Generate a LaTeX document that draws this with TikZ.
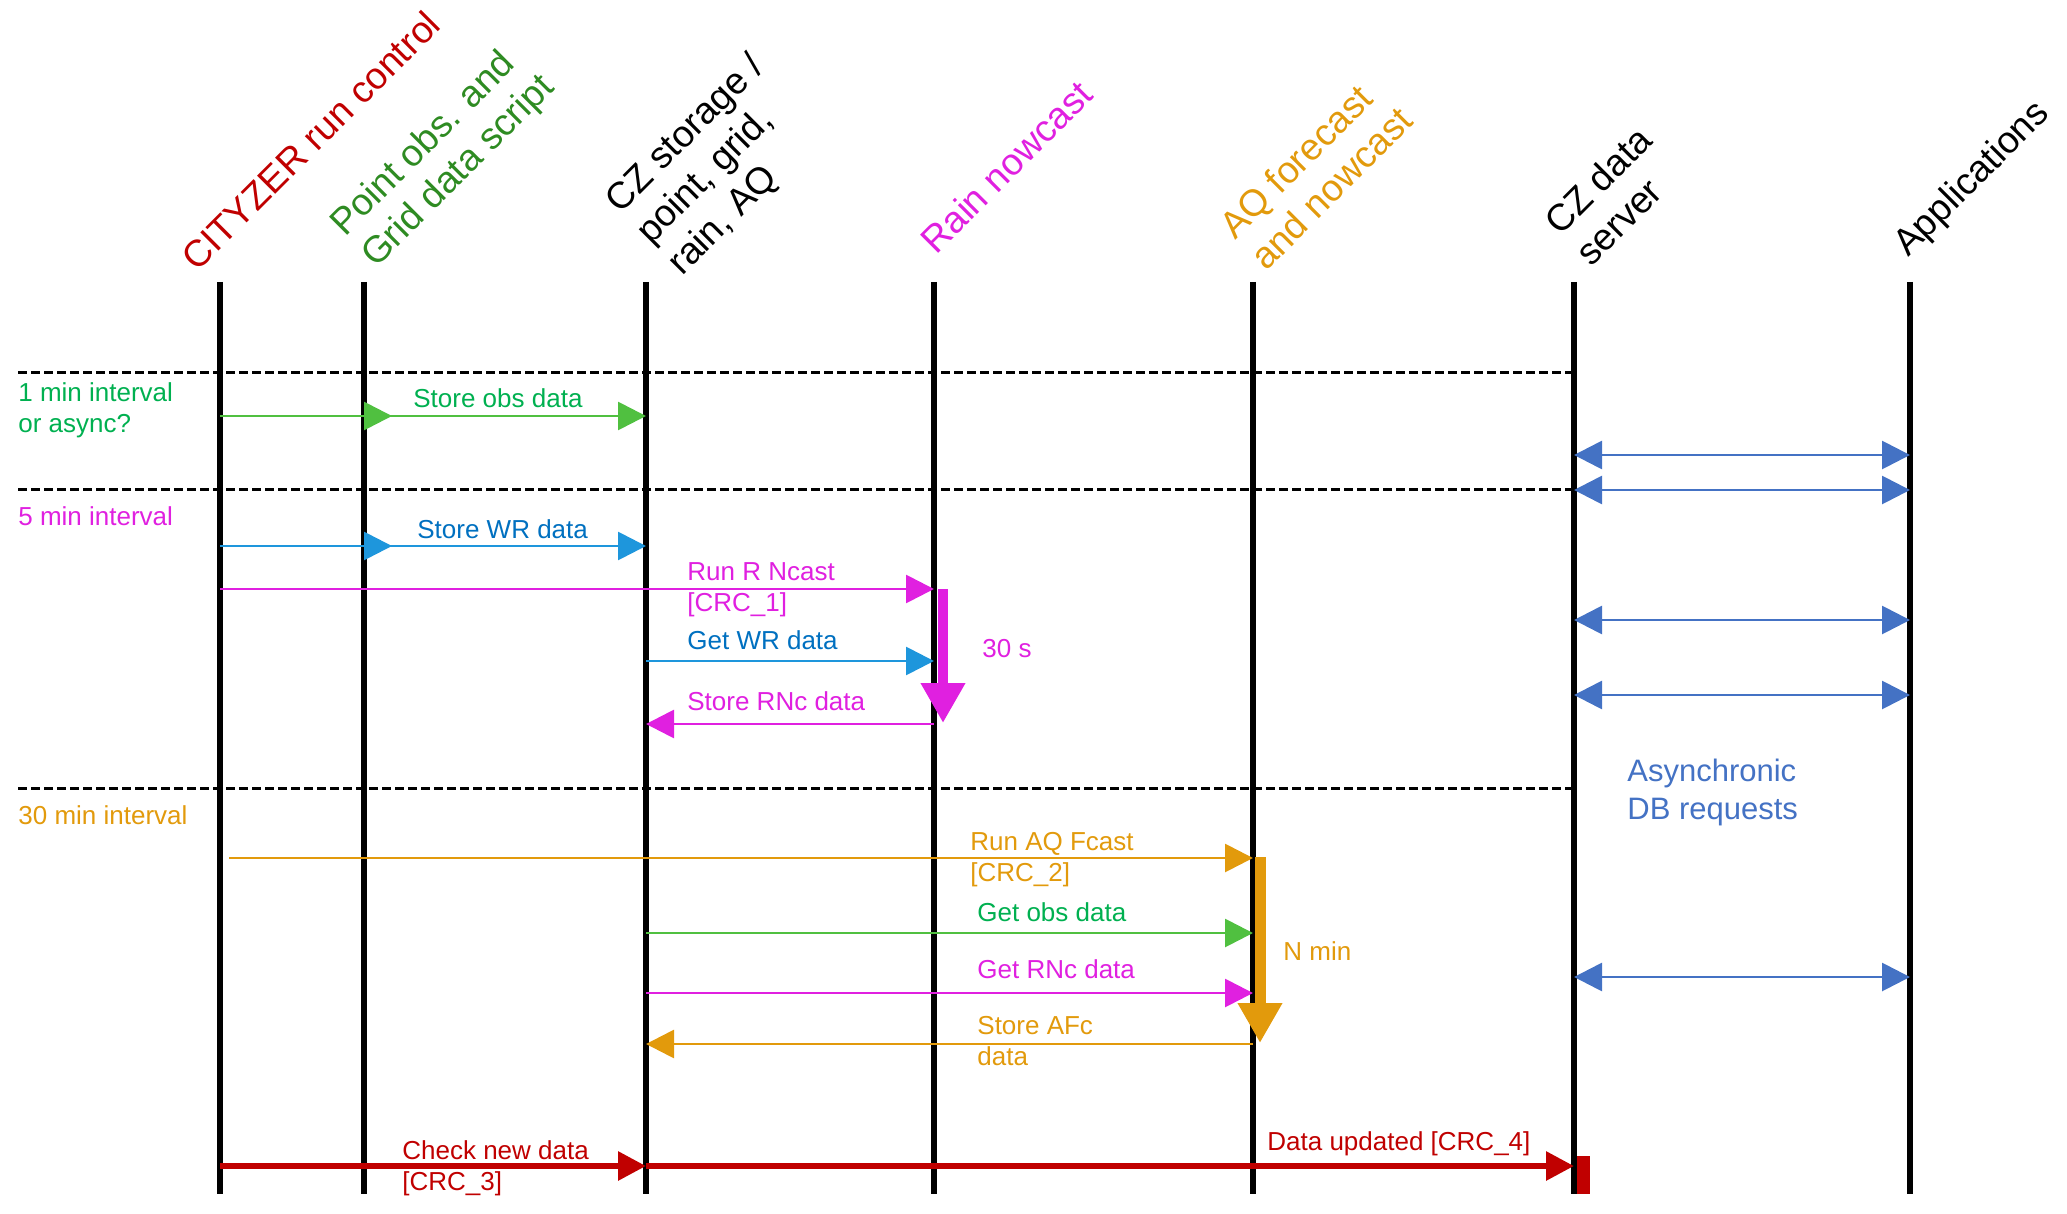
\documentclass[tikz,border=0pt]{standalone}
\usepackage{fontspec}
\setmainfont{Liberation Sans}
\usetikzlibrary{arrows.meta}
\definecolor{cred}{HTML}{C00000}
\definecolor{hgreen}{HTML}{2E8B22}
\definecolor{lgreen}{HTML}{00B050}
\definecolor{agreen}{HTML}{50C040}
\definecolor{mag}{HTML}{E020E0}
\definecolor{ablue}{HTML}{1E96DC}
\definecolor{lblue}{HTML}{0070C0}
\definecolor{orng}{HTML}{E29A0C}
\definecolor{asyncblue}{HTML}{4472C4}
\tikzset{
  lifeline/.style={line width=2.8pt, black},
  sepline/.style={line width=1.5pt, black, dash pattern=on 4.5pt off 2pt},
  msg/.style={line width=1.4pt, -{Triangle[length=14pt,width=14pt]}},
  dmsg/.style={line width=1.4pt, {Triangle[length=14pt,width=14pt]}-{Triangle[length=14pt,width=14pt]}},
  redmsg/.style={line width=3pt, cred, -{Triangle[length=14pt,width=14pt]}},
  dur/.style={line width=5pt, -{Triangle[length=20pt,width=21pt]}},
  lbl/.style={anchor=base west, inner sep=0pt, align=left, font=\fontsize{13pt}{15.5pt}\selectfont},
  asy/.style={anchor=base west, inner sep=0pt, align=left, font=\fontsize{15.5pt}{19pt}\selectfont},
  head/.style={anchor=base west, inner sep=0pt, rotate=45, align=left, font=\fontsize{18.7pt}{22pt}\selectfont},
}
\begin{document}
\begin{tikzpicture}[x=0.5pt,y=-0.5pt]
\useasboundingbox (0,0) rectangle (2067,1214);
% lifeline ends
\coordinate (L1) at (220,282);  \coordinate (L1b) at (220,1194);
\coordinate (L2) at (364,282);  \coordinate (L2b) at (364,1194);
\coordinate (L3) at (646,282);  \coordinate (L3b) at (646,1194);
\coordinate (L4) at (934,282);  \coordinate (L4b) at (934,1194);
\coordinate (L5) at (1253,282); \coordinate (L5b) at (1253,1194);
\coordinate (L6) at (1574,282); \coordinate (L6b) at (1574,1194);
\coordinate (L7) at (1910,282); \coordinate (L7b) at (1910,1194);
% headers (anchor = baseline start of the last line)
\node[head, cred]   (h1) at (197,273) {CITYZER run control};
\node[head, hgreen] (h2) at (376,269) {Point obs. and\\Grid data script};
\node[head, black]  (h3) at (682,277) {CZ storage /\\point, grid,\\rain, AQ};
\node[head, mag]    (h4) at (936,256) {Rain nowcast};
\node[head, orng]   (h5) at (1266,272) {AQ forecast\\and nowcast};
\node[head, black]  (h6) at (1591,268) {CZ data\\server};
\node[head, black]  (h7) at (1908,258) {Applications};
% lifelines
\foreach \i in {1,...,7} \draw[lifeline] (L\i) -- (L\i b);
% separators
\coordinate (s0) at (18,0);
\coordinate (d1) at (0,372); \coordinate (d2) at (0,489); \coordinate (d3) at (0,788);
\draw[sepline] (s0 |- d1) -- (L6 |- d1);
\draw[sepline] (s0 |- d2) -- (L6 |- d2);
\draw[sepline] (s0 |- d3) -- (L6 |- d3);
% interval labels
\node[lbl, lgreen] (i1) at (18,432) {1 min interval\\or async?};
\node[lbl, mag]    (i2) at (18,525) {5 min interval};
\node[lbl, orng]   (i3) at (18,824) {30 min interval};
% rows
\coordinate (r1) at (0,416);
\coordinate (r2) at (0,546);
\coordinate (r3) at (0,589);
\coordinate (r4) at (0,661);
\coordinate (r5) at (0,724);
\coordinate (r6) at (0,858);
\coordinate (r7) at (0,933);
\coordinate (r8) at (0,993);
\coordinate (r9) at (0,1044);
\coordinate (r10) at (0,1166);
% 1 min
\draw[msg, agreen] (L1 |- r1) -- ([xshift=14pt]L2 |- r1);
\draw[msg, agreen] (L2 |- r1) -- (L3 |- r1);
\node[lbl, lgreen] (t1) at (413,408) {Store obs data};
% 5 min
\draw[msg, ablue] (L1 |- r2) -- ([xshift=14pt]L2 |- r2);
\draw[msg, ablue] (L2 |- r2) -- (L3 |- r2);
\node[lbl, lblue] (t2) at (417,538) {Store WR data};
\draw[msg, mag] (L1 |- r3) -- (L4 |- r3);
\node[lbl, mag] (t3) at (687,611) {Run R Ncast\\{[CRC\_1]}};
\draw[msg, ablue] (L3 |- r4) -- (L4 |- r4);
\node[lbl, lblue] (t4) at (687,649) {Get WR data};
\draw[msg, mag] (L4 |- r5) -- (L3 |- r5);
\node[lbl, mag] (t5) at (687,710) {Store RNc data};
\coordinate (m1) at (943,589); \coordinate (m2) at (943,723);
\draw[dur, mag] (m1) -- (m2);
\node[lbl, mag] (t6) at (982,657) {30 s};
% 30 min
\coordinate (o0) at (229,858);
\draw[msg, orng] (o0) -- (L5 |- r6);
\node[lbl, orng] (t7) at (970,881) {Run AQ Fcast\\{[CRC\_2]}};
\draw[msg, agreen] (L3 |- r7) -- (L5 |- r7);
\node[lbl, lgreen] (t8) at (977,921) {Get obs data};
\draw[msg, mag] (L3 |- r8) -- (L5 |- r8);
\node[lbl, mag] (t9) at (977,978) {Get RNc data};
\draw[msg, orng] (L5 |- r9) -- (L3 |- r9);
\node[lbl, orng] (t10) at (977,1065) {Store AFc\\data};
\coordinate (n1) at (1260,857); \coordinate (n2) at (1260,1043);
\draw[dur, orng, line width=5.5pt] (n1) -- (n2);
\node[lbl, orng] (t11) at (1283,960) {N min};
% red check
\draw[redmsg] (L1 |- r10) -- (L3 |- r10);
\draw[redmsg] (L3 |- r10) -- (L6 |- r10);
\node[lbl, cred] (t12) at (402,1190) {Check new data\\{[CRC\_3]}};
\node[lbl, cred] (t13) at (1267,1150) {Data updated [CRC\_4]};
\node[fill=cred, inner sep=0pt, minimum width=6.5pt, minimum height=19pt, anchor=south west] (act) at (1577,1194) {};
% async
\foreach \y in {455,490,620,695,977} {
  \coordinate (a) at (0,\y);
  \draw[dmsg, asyncblue] (L6 |- a) -- (L7 |- a);
}
\node[asy, asyncblue] (t14) at (1627,819) {Asynchronic\\DB requests};
\end{tikzpicture}
\end{document}
